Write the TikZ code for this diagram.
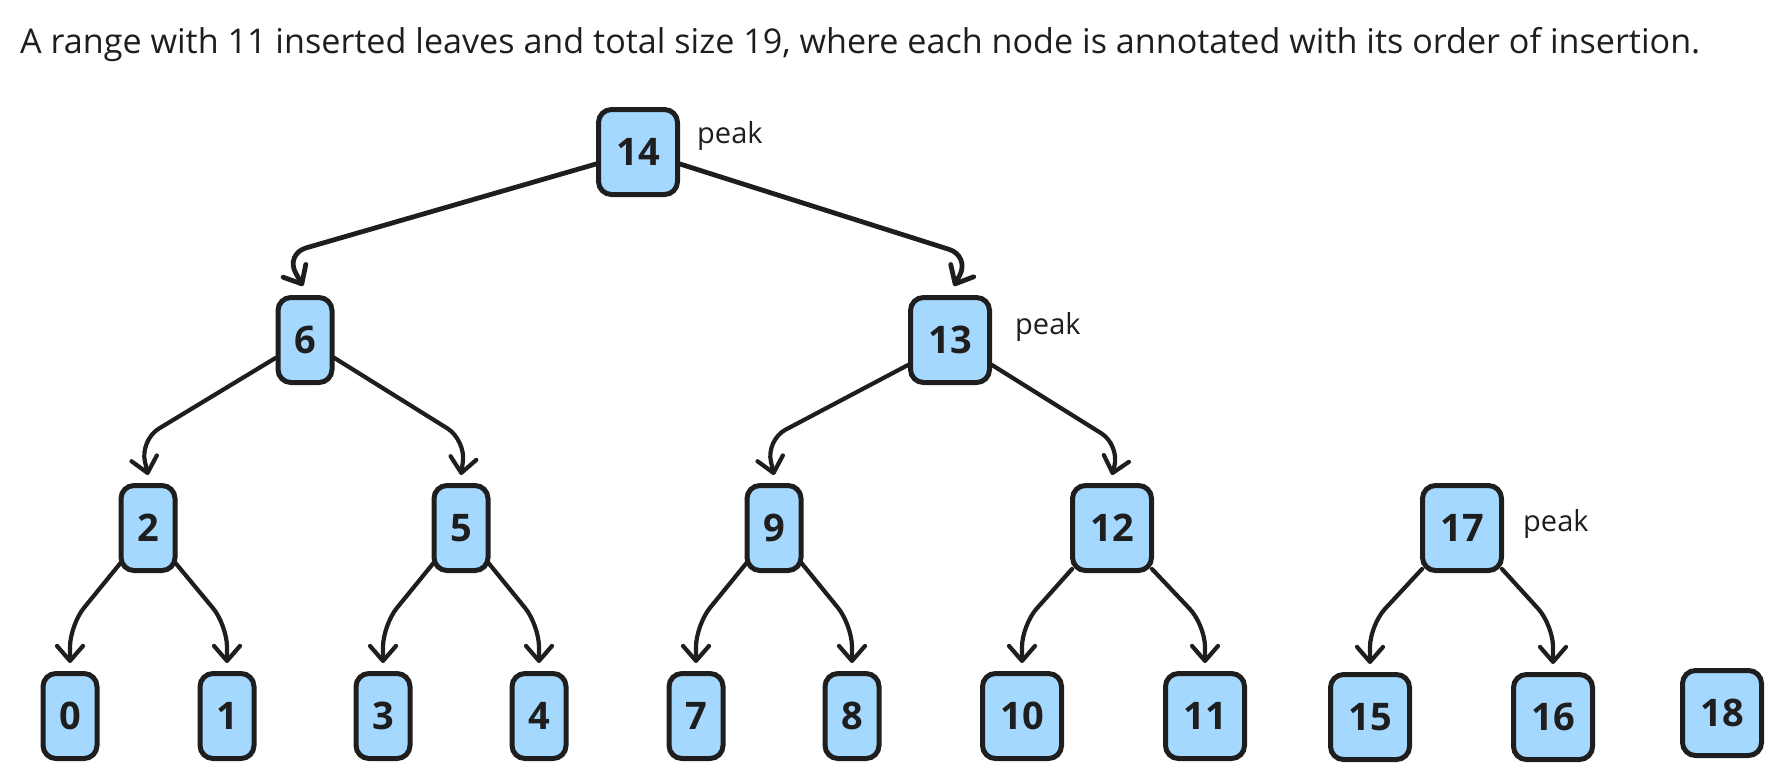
\documentclass[tikz,border=0pt]{standalone}
\usepackage{fontspec}
\setmainfont{Open Sans}
\usetikzlibrary{arrows.meta,calc}
\definecolor{ink}{HTML}{1E1E1E}
\definecolor{boxblue}{HTML}{A5D8FF}
\begin{document}
\begin{tikzpicture}[x=1pt,y=-1pt,
  box/.style={draw=ink, line width=5pt, fill=boxblue, rounded corners=13pt, minimum height=85pt, inner sep=0pt, font=\bfseries\fontsize{38}{42}\selectfont, text=ink},
  narrow/.style={box, minimum width=54pt},
  wide/.style={box, minimum width=79pt},
  arr/.style={draw=ink, line width=4.2pt, line cap=round, line join=round, rounded corners=22pt, -{Straight Barb[length=15pt,width=26pt,round]}},
  toparr/.style={arr, line width=4.8pt},
  peaklbl/.style={anchor=base west, inner sep=0pt, font=\fontsize{29}{32}\selectfont, text=ink}]
\useasboundingbox (0,0) rectangle (1782,780);

\node[anchor=base west, inner sep=0pt, text=ink] (title) at (20,53)
  {\resizebox{1680pt}{!}{\fontsize{30}{36}\selectfont A range with 11 inserted leaves and total size 19, where each node is annotated with its order of insertion.}};

% level 0
\node[wide] (n14) at (638,152) {14};
% level 1
\node[narrow] (n6) at (305,340) {6};
\node[wide] (n13) at (950,340) {13};
% level 2
\node[narrow] (n2) at (148,528) {2};
\node[narrow] (n5) at (461,528) {5};
\node[narrow] (n9) at (774,528) {9};
\node[wide] (n12) at (1112,528) {12};
\node[wide] (n17) at (1462,528) {17};
% leaves
\node[narrow] (n0) at (70,716) {0};
\node[narrow] (n1) at (227,716) {1};
\node[narrow] (n3) at (383,716) {3};
\node[narrow] (n4) at (539,716) {4};
\node[narrow] (n7) at (696,716) {7};
\node[narrow] (n8) at (852,716) {8};
\node[wide] (n10) at (1022,716) {10};
\node[wide] (n11) at (1205,716) {11};
\node[wide] (n15) at (1370,717) {15};
\node[wide] (n16) at (1553,717) {16};
\node[wide] (n18) at (1722,713) {18};

% peak labels
\node[peaklbl] (p14) at (697,143) {peak};
\node[peaklbl] (p13) at (1015,334) {peak};
\node[peaklbl] (p17) at (1523,531) {peak};

% level 0 -> 1
\draw[toparr] ($(n14.west)+(0,12)$) -- (285,254) -- ($(n6.north)+(-2,-9)$);
\draw[toparr] ($(n14.east)+(0,12)$) -- (970,256) -- ($(n13.north)+(4,-9)$);
% level 1 -> 2
\draw[arr] ($(n6.west)+(0,18)$) -- (140,440) -- ($(n2.north)+(0,-8)$);
\draw[arr] ($(n6.east)+(0,18)$) -- (466,440) -- ($(n5.north)+(0,-8)$);
\draw[arr] ($(n13.west)+(0,25)$) -- (766,440) -- ($(n9.north)+(0,-8)$);
\draw[arr] ($(n13.east)+(0,25)$) -- (1120,445) -- ($(n12.north)+(0,-8)$);
% level 2 -> leaves
\draw[arr] ($(n2.south west)+(2,-10)$) -- (n0.north |- 0,625) -- ($(n0.north)+(0,-8)$);
\draw[arr] ($(n2.south east)+(-2,-10)$) -- (n1.north |- 0,625) -- ($(n1.north)+(0,-8)$);
\draw[arr] ($(n5.south west)+(2,-10)$) -- (n3.north |- 0,625) -- ($(n3.north)+(0,-8)$);
\draw[arr] ($(n5.south east)+(-2,-10)$) -- (n4.north |- 0,625) -- ($(n4.north)+(0,-8)$);
\draw[arr] ($(n9.south west)+(2,-10)$) -- (n7.north |- 0,625) -- ($(n7.north)+(0,-8)$);
\draw[arr] ($(n9.south east)+(-2,-10)$) -- (n8.north |- 0,625) -- ($(n8.north)+(0,-8)$);
\draw[arr] ($(n12.south west)+(2,-4)$) -- (n10.north |- 0,625) -- ($(n10.north)+(0,-8)$);
\draw[arr] ($(n12.south east)+(-2,-4)$) -- (n11.north |- 0,625) -- ($(n11.north)+(0,-8)$);
\draw[arr] ($(n17.south west)+(2,-4)$) -- (n15.north |- 0,625) -- ($(n15.north)+(0,-8)$);
\draw[arr] ($(n17.south east)+(-2,-4)$) -- (n16.north |- 0,625) -- ($(n16.north)+(0,-8)$);
\end{tikzpicture}
\end{document}
